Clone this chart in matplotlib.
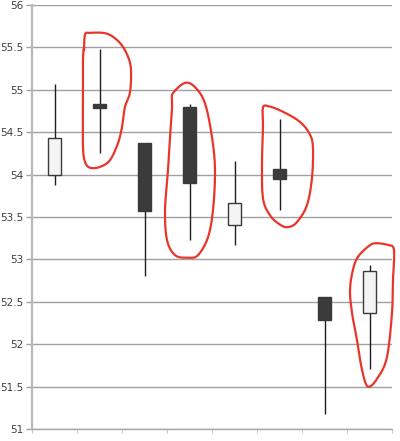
import numpy as np
import matplotlib
matplotlib.use("Agg")
import matplotlib.pyplot as plt

# OHLC values for eight sessions
opens = [54.00, 54.83, 54.37, 54.80, 53.41, 54.07, 52.56, 52.37]
highs = [55.07, 55.48, 54.37, 54.83, 54.16, 54.66, 52.56, 52.93]
lows = [53.88, 54.25, 52.80, 53.23, 53.17, 53.58, 51.18, 51.71]
closes = [54.43, 54.79, 53.57, 53.90, 53.67, 53.95, 52.29, 52.86]

y_ticks = [51, 51.5, 52, 52.5, 53, 53.5, 54, 54.5, 55, 55.5, 56]
y_tick_labels = ["51", "51.5", "52", "52.5", "53", "53.5", "54", "54.5", "55", "55.5", "56"]

# Hand-drawn red outlines (x in category units, y in price)
loop_a_x = [1.156, 1.178, 1.289, 1.667, 1.956, 2.133, 2.200, 2.178, 2.067, 2.000,
            1.911, 1.733, 1.511, 1.289, 1.178, 1.133, 1.133, 1.133, 1.156]
loop_a_y = [55.47, 55.65, 55.67, 55.66, 55.55, 55.39, 55.23, 54.97, 54.80, 54.56,
            54.37, 54.17, 54.09, 54.08, 54.15, 54.33, 54.84, 55.35, 55.50]
loop_b_x = [3.111, 3.133, 3.400, 3.622, 3.844, 4.000, 4.067, 4.022, 3.911, 3.689,
            3.467, 3.178, 3.000, 2.956, 3.022, 3.067, 3.111]
loop_b_y = [54.86, 54.96, 55.08, 55.03, 54.84, 54.44, 54.05, 53.58, 53.26, 53.05,
            53.02, 53.05, 53.23, 53.58, 54.05, 54.44, 54.76]
loop_c_x = [5.133, 5.289, 5.578, 5.956, 6.178, 6.244, 6.222, 6.111, 5.889, 5.689,
            5.511, 5.289, 5.133, 5.111, 5.133]
loop_c_y = [54.79, 54.80, 54.74, 54.62, 54.47, 54.31, 53.96, 53.64, 53.44, 53.38,
            53.41, 53.52, 53.72, 54.15, 54.55]
loop_d_x = [7.244, 7.467, 7.622, 7.911, 8.044, 8.022, 8.000, 7.889, 7.689, 7.467,
            7.333, 7.222, 7.111, 7.067, 7.133]
loop_d_y = [53.03, 53.15, 53.19, 53.17, 53.11, 52.76, 52.37, 51.85, 51.61, 51.50,
            51.70, 52.05, 52.37, 52.64, 52.88]


def smooth_closed(xs, ys, n=20):
    """Closed Catmull-Rom curve through the given points."""
    p = np.column_stack([xs, ys])
    m = len(p)
    out = []
    for i in range(m):
        p0, p1, p2, p3 = p[(i - 1) % m], p[i], p[(i + 1) % m], p[(i + 2) % m]
        t = np.linspace(0, 1, n, endpoint=False)[:, None]
        seg = 0.5 * ((2 * p1) + (-p0 + p2) * t + (2 * p0 - 5 * p1 + 4 * p2 - p3) * t ** 2
                     + (-p0 + 3 * p1 - 3 * p2 + p3) * t ** 3)
        out.append(seg)
    out.append(p[:1])
    pts = np.vstack(out)
    return pts[:, 0], pts[:, 1]


fig = plt.figure(figsize=(4.0, 4.41), dpi=100)
ax = fig.add_axes([0.08, 0.027, 0.90, 0.962])

xpos = np.arange(len(opens)) + 0.5
body_w = 0.30
up_face, down_face = "#f4f4f4", "#3b3b3b"
edge = "#3a3a3a"

for x, o, h, l, c in zip(xpos, opens, highs, lows, closes):
    ax.vlines(x, l, h, color="#1e1e1e", linewidth=1.0, zorder=3)
    bottom = min(o, c)
    height = abs(c - o)
    face = up_face if c >= o else down_face
    ax.bar(x, height, width=body_w, bottom=bottom, color=face,
           edgecolor=edge, linewidth=1.0, zorder=4)

for lx, ly in [(loop_a_x, loop_a_y), (loop_b_x, loop_b_y),
               (loop_c_x, loop_c_y), (loop_d_x, loop_d_y)]:
    sx, sy = smooth_closed(lx, ly)
    ax.plot(sx, sy, color="#e8362a", linewidth=1.6, zorder=6, clip_on=False,
            solid_capstyle="round")

ax.set_xlim(0, len(opens))
ax.set_ylim(51, 56)
ax.set_yticks(y_ticks)
ax.set_yticklabels(y_tick_labels)
ax.set_xticks(np.arange(len(opens) + 1))
ax.set_xticklabels([])

ax.grid(axis="y", color="#a0a0a0", linewidth=1.0, zorder=0)
ax.set_axisbelow(True)
ax.tick_params(axis="y", length=4, width=1.0, color="#a0a0a0",
               labelsize=7.5, labelcolor="#404040", pad=2)
ax.tick_params(axis="x", length=3, width=0.8, color="#c8c8c8")

for side in ["top", "right"]:
    ax.spines[side].set_visible(False)
ax.spines["left"].set_color("#b8b8b8")
ax.spines["left"].set_linewidth(1.6)
ax.spines["bottom"].set_color("#a8a8a8")
ax.spines["bottom"].set_linewidth(1.0)

fig.savefig("out.png", dpi=100)
